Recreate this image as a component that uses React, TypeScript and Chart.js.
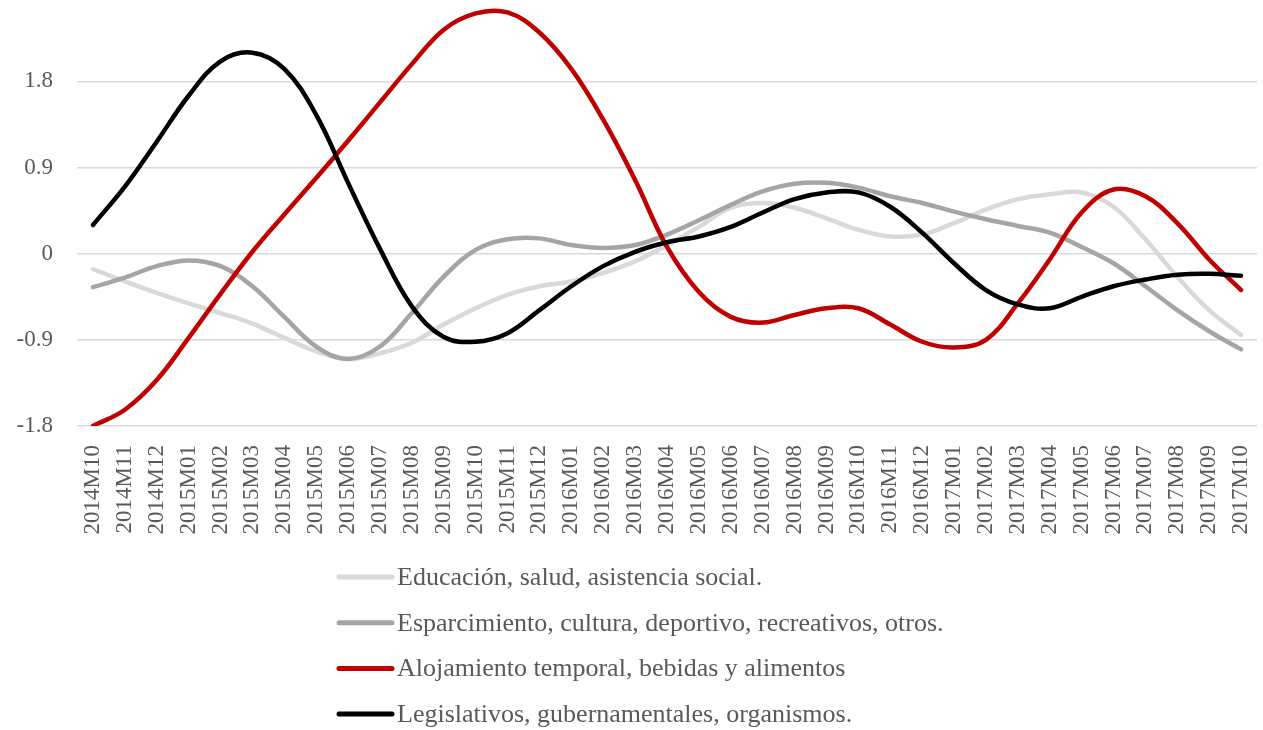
import React, { useEffect, useRef } from "react";
import { Chart, registerables } from "chart.js";

Chart.register(...registerables);

// Monthly periods on the category axis
const months = [
  "2014M10", "2014M11", "2014M12",
  "2015M01", "2015M02", "2015M03", "2015M04", "2015M05", "2015M06",
  "2015M07", "2015M08", "2015M09", "2015M10", "2015M11", "2015M12",
  "2016M01", "2016M02", "2016M03", "2016M04", "2016M05", "2016M06",
  "2016M07", "2016M08", "2016M09", "2016M10", "2016M11", "2016M12",
  "2017M01", "2017M02", "2017M03", "2017M04", "2017M05", "2017M06",
  "2017M07", "2017M08", "2017M09", "2017M10",
];

const educacion = [
  -0.16, -0.29, -0.41, -0.52, -0.62, -0.73, -0.88, -1.02, -1.1, -1.04,
  -0.93, -0.74, -0.57, -0.43, -0.34, -0.29, -0.2, -0.08, 0.09, 0.28,
  0.48, 0.53, 0.48, 0.37, 0.25, 0.18, 0.2, 0.32, 0.46, 0.57,
  0.62, 0.64, 0.49, 0.15, -0.24, -0.59, -0.85,
];

const esparcimiento = [
  -0.35, -0.25, -0.13, -0.07, -0.13, -0.34, -0.66, -0.97, -1.1, -0.97,
  -0.62, -0.24, 0.04, 0.15, 0.16, 0.09, 0.06, 0.09, 0.2, 0.35,
  0.51, 0.65, 0.73, 0.74, 0.69, 0.6, 0.53, 0.44, 0.36, 0.29,
  0.22, 0.07, -0.1, -0.34, -0.59, -0.81, -1.0,
];

const alojamiento = [
  -1.8, -1.63, -1.32, -0.88, -0.42, 0.02, 0.41, 0.79, 1.18, 1.58,
  1.98, 2.34, 2.51, 2.52, 2.31, 1.93, 1.4, 0.77, 0.07, -0.4,
  -0.66, -0.72, -0.64, -0.57, -0.57, -0.74, -0.92, -0.98, -0.9, -0.52,
  -0.06, 0.43, 0.67, 0.6, 0.32, -0.06, -0.38,
];

const legislativos = [
  0.3, 0.7, 1.17, 1.65, 2.01, 2.1, 1.93, 1.45, 0.74, 0.05,
  -0.55, -0.87, -0.92, -0.83, -0.59, -0.34, -0.13, 0.02, 0.12, 0.18,
  0.28, 0.43, 0.57, 0.64, 0.64, 0.49, 0.22, -0.1, -0.38, -0.53,
  -0.57, -0.45, -0.34, -0.27, -0.22, -0.21, -0.23,
];

const seriesLabels = [
  "Educación, salud, asistencia social.",
  "Esparcimiento, cultura, deportivo, recreativos, otros.",
  "Alojamiento temporal, bebidas y alimentos",
  "Legislativos, gubernamentales, organismos.",
];
const seriesValues = [educacion, esparcimiento, alojamiento, legislativos];
const seriesColors = ["#d9d9d9", "#a5a5a5", "#c00000", "#000000"];

const yTicks = [-1.8, -0.9, 0, 0.9, 1.8];

const TEXT_COLOR = "#595959";
const FONT_FAMILY = "'Liberation Serif', 'Times New Roman', serif";

const WIDTH = 1263;
const HEIGHT = 730;

// Legend drawn as a left-aligned column beneath the axis labels
const LEGEND_TOP = 577;
const LEGEND_STEP = 45.7;
const LEGEND_LINE_X0 = 339;
const LEGEND_LINE_X1 = 392;
const LEGEND_TEXT_X = 397;

const columnLegend = {
  id: "columnLegend",
  afterDraw(chart: Chart) {
    const ctx = chart.ctx;
    ctx.save();
    chart.data.datasets.forEach((ds: any, i: number) => {
      const y = LEGEND_TOP + i * LEGEND_STEP;
      ctx.strokeStyle = ds.borderColor;
      ctx.lineWidth = 5;
      ctx.lineCap = "round";
      ctx.beginPath();
      ctx.moveTo(LEGEND_LINE_X0, y);
      ctx.lineTo(LEGEND_LINE_X1, y);
      ctx.stroke();
      ctx.fillStyle = TEXT_COLOR;
      ctx.font = `26px ${FONT_FAMILY}`;
      ctx.textAlign = "left";
      ctx.textBaseline = "middle";
      ctx.fillText(ds.label, LEGEND_TEXT_X, y + 1);
    });
    ctx.restore();
  },
};

export default function App() {
  const canvasRef = useRef<HTMLCanvasElement | null>(null);

  useEffect(() => {
    const canvas = canvasRef.current;
    if (!canvas) return;

    const datasets = seriesLabels.map((label, i) => ({
      label,
      data: seriesValues[i],
      borderColor: seriesColors[i],
      backgroundColor: seriesColors[i],
      borderWidth: 4.5,
      borderCapStyle: "round" as const,
      borderJoinStyle: "round" as const,
      pointRadius: 0,
      pointHoverRadius: 0,
      tension: 0.38,
      fill: false,
      // later series sit on top
      order: seriesLabels.length - i,
    }));

    const chart = new Chart(canvas, {
      type: "line",
      data: { labels: months, datasets },
      options: {
        animation: false,
        responsive: false,
        maintainAspectRatio: false,
        layout: { padding: { left: 0, right: 6, top: 0, bottom: 174 } },
        plugins: {
          legend: { display: false },
          tooltip: { enabled: false },
        },
        scales: {
          x: {
            type: "category",
            offset: true,
            grid: { display: false, drawTicks: false },
            border: { display: false },
            afterFit: (axis: any) => {
              axis.height = 130;
              axis.paddingLeft = 0;
              axis.paddingRight = 0;
              axis.paddingTop = 0;
              axis.paddingBottom = 0;
            },
            ticks: {
              color: TEXT_COLOR,
              font: { family: FONT_FAMILY, size: 23 },
              padding: 19,
              minRotation: 90,
              maxRotation: 90,
              autoSkip: false,
            },
          },
          y: {
            type: "linear",
            min: -1.8,
            max: 2.65,
            afterBuildTicks: (axis: any) => {
              axis.ticks = yTicks.map((v) => ({ value: v }));
            },
            afterFit: (axis: any) => {
              axis.width = 77;
              axis.paddingTop = 0;
              axis.paddingBottom = 0;
              axis.paddingLeft = 0;
              axis.paddingRight = 0;
            },
            grid: { color: "#d9d9d9", lineWidth: 1.5, drawTicks: false },
            border: { display: false },
            ticks: {
              color: TEXT_COLOR,
              font: { family: FONT_FAMILY, size: 23 },
              padding: 24,
              callback: (v: any) => String(Number(Number(v).toFixed(1))),
            },
          },
        },
      },
      plugins: [columnLegend],
    });

    return () => chart.destroy();
  }, []);

  return (
    <div style={{ position: "absolute", left: 0, top: 0, width: WIDTH, height: HEIGHT, background: "#fff" }}>
      <canvas ref={canvasRef} width={WIDTH} height={HEIGHT} style={{ display: "block" }} />
    </div>
  );
}
